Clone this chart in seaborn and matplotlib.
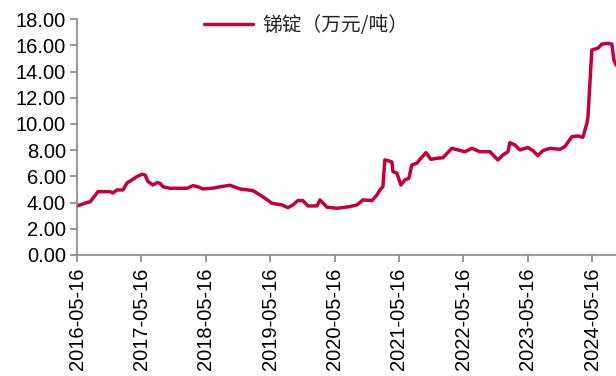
import pandas as pd
import seaborn as sns
import matplotlib.pyplot as plt
import matplotlib.dates as mdates

# 锑锭价格（万元/吨），读图估计
dates = [
    "2016-05-16", "2016-07-12", "2016-07-29", "2016-09-12", "2016-11-19", "2016-12-06",
    "2016-12-29", "2017-02-01", "2017-02-24", "2017-03-24", "2017-04-21", "2017-05-20",
    "2017-06-06", "2017-06-23", "2017-07-21", "2017-08-13", "2017-08-30", "2017-09-16",
    "2017-10-25", "2018-01-30", "2018-03-05", "2018-04-02", "2018-04-30", "2018-06-26",
    "2018-08-05", "2018-10-01", "2018-11-26", "2019-02-08", "2019-03-20", "2019-04-17",
    "2019-05-27", "2019-07-22", "2019-08-25", "2019-09-23", "2019-10-21", "2019-11-18",
    "2019-12-17", "2020-02-06", "2020-02-23", "2020-04-03", "2020-05-29", "2020-08-11",
    "2020-09-20", "2020-10-24", "2020-12-14", "2021-01-11", "2021-01-28", "2021-02-14",
    "2021-02-25", "2021-03-14", "2021-04-06", "2021-04-12", "2021-05-04", "2021-05-27",
    "2021-06-19", "2021-07-11", "2021-07-28", "2021-08-26", "2021-09-12", "2021-10-16",
    "2021-11-13", "2021-12-17", "2022-01-20", "2022-03-12", "2022-04-15", "2022-05-25",
    "2022-07-04", "2022-08-18", "2022-10-14", "2022-11-28", "2022-12-26", "2023-01-24",
    "2023-02-04", "2023-03-04", "2023-04-02", "2023-05-17", "2023-06-15", "2023-07-13",
    "2023-08-10", "2023-09-19", "2023-11-15", "2023-12-13", "2024-01-22", "2024-02-25",
    "2024-03-24", "2024-04-16", "2024-04-22", "2024-05-14", "2024-06-17", "2024-07-10",
    "2024-08-13", "2024-09-04", "2024-09-16", "2024-09-28",
]
prices = [
    3.74, 4.00, 4.05, 4.83, 4.83, 4.73,
    4.96, 4.96, 5.50, 5.73, 5.98, 6.16,
    6.10, 5.60, 5.34, 5.52, 5.47, 5.20,
    5.09, 5.09, 5.29, 5.20, 5.04, 5.10,
    5.20, 5.32, 5.04, 4.91, 4.58, 4.33,
    3.94, 3.82, 3.61, 3.82, 4.15, 4.15,
    3.74, 3.74, 4.20, 3.64, 3.56, 3.69,
    3.82, 4.20, 4.15, 4.58, 4.96, 5.21,
    7.25, 7.20, 7.10, 6.36, 6.25, 5.34,
    5.73, 5.85, 6.87, 7.00, 7.30, 7.81,
    7.30, 7.38, 7.42, 8.14, 8.02, 7.88,
    8.14, 7.88, 7.88, 7.25, 7.63, 7.88,
    8.57, 8.40, 8.02, 8.20, 7.96, 7.58,
    7.96, 8.14, 8.07, 8.27, 9.03, 9.08,
    8.98, 10.05, 10.56, 15.65, 15.78, 16.10,
    16.15, 16.10, 14.90, 14.50,
]
tick_dates = ["2016-05-16", "2017-05-16", "2018-05-16", "2019-05-16", "2020-05-16",
              "2021-05-16", "2022-05-16", "2023-05-16", "2024-05-16"]
label = "锑锭（万元/吨）"

df = pd.DataFrame({"date": pd.to_datetime(dates), "price": prices})

sns.set_style("ticks")
plt.rcParams["font.family"] = ["Liberation Sans", "Noto Sans CJK SC", "DejaVu Sans"]

fig = plt.figure(figsize=(6.16, 3.76), dpi=100)
ax = fig.add_axes([0.125, 0.322, 0.875, 0.627])

sns.lineplot(data=df, x="date", y="price", ax=ax, color="#C4003A", linewidth=2.5, label=label)

ax.set_xlim(df["date"].iloc[0], df["date"].iloc[-1])
ax.set_ylim(0, 18)
ax.set_yticks(range(0, 19, 2))
ax.yaxis.set_major_formatter(plt.FormatStrFormatter("%.2f"))
ax.set_xticks(pd.to_datetime(tick_dates))
ax.xaxis.set_major_formatter(mdates.DateFormatter("%Y-%m-%d"))
ax.set_xlabel("")
ax.set_ylabel("")

for s in ["top", "right"]:
    ax.spines[s].set_visible(False)
for s in ["left", "bottom"]:
    ax.spines[s].set_color("#888888")
    ax.spines[s].set_linewidth(1.2)

ax.tick_params(axis="both", colors="#888888", labelcolor="black", labelsize=14.5,
               length=5, width=1.2, direction="out")
ax.tick_params(axis="x", labelrotation=90, pad=4)
ax.tick_params(axis="y", pad=3)

leg = ax.legend(loc="center", bbox_to_anchor=(0.425, 0.972), frameon=False,
                handlelength=2.5, handletextpad=0.45,
                prop={"family": ["Noto Sans CJK SC"], "size": 14.2})

fig.savefig("out.png", dpi=100)
